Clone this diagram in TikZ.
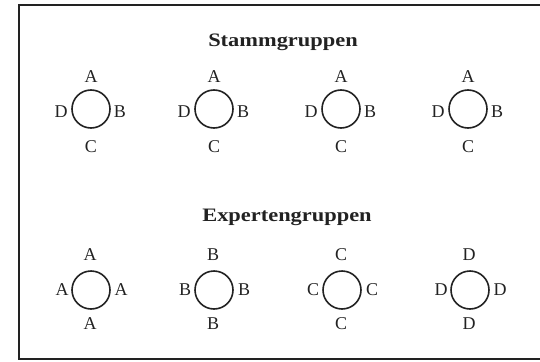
\documentclass[tikz,border=0pt]{standalone}
\usepackage{fontspec}
\setmainfont{Liberation Serif}
\definecolor{ink}{HTML}{222222}
\begin{document}
\begin{tikzpicture}[x=1pt,y=-1pt,
  ring/.style={circle,draw=ink,line width=1.6pt,minimum size=38pt,inner sep=0pt},
  lab/.style={font=\fontsize{18}{18}\selectfont,text=ink,inner sep=0pt,anchor=center},
  heading/.style={font=\bfseries\fontsize{19}{19}\selectfont,text=ink,xscale=1.18,inner sep=0pt}]
\useasboundingbox (0,0) rectangle (540,361);
% frame, open on the right
\draw[ink,line width=1.5pt] (541,5) -- (19,5) -- (19,359) -- (541,359);

\node[heading] (stamm) at (283,42) {Stammgruppen};
\node[heading] (experten) at (287,217) {Expertengruppen};

% home groups: every circle holds one of each letter
\foreach \i/\x in {1/91,2/214,3/341,4/468}{
  \node[ring] (s\i) at (\x,109) {};
  \node[lab] (s\i n) at (\x,77) {A};
  \node[lab] (s\i e) at (\x+29,112) {B};
  \node[lab] (s\i s) at (\x,147) {C};
  \node[lab] (s\i w) at (\x-30,112) {D};
}

% expert groups: every circle holds one letter four times
\foreach \i/\x/\l in {1/91/A,2/214/B,3/342/C,4/470/D}{
  \node[ring] (e\i) at (\x,290) {};
  \node[lab] (e\i n) at (\x-1,255) {\l};
  \node[lab] (e\i e) at (\x+30,290) {\l};
  \node[lab] (e\i s) at (\x-1,324) {\l};
  \node[lab] (e\i w) at (\x-29,290) {\l};
}
\end{tikzpicture}
\end{document}
